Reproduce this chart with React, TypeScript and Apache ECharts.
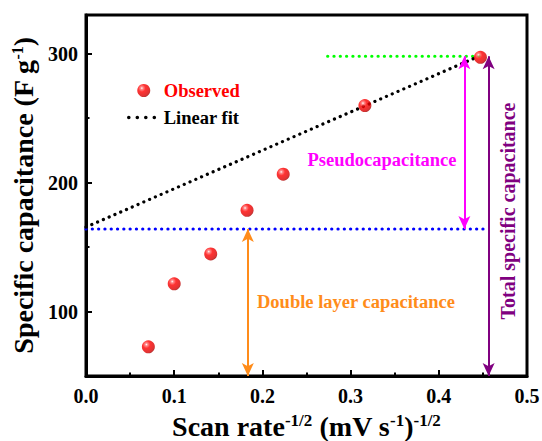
import React, { useEffect, useRef } from 'react';
import * as echarts from 'echarts';

// ---- data ----
const scanRate = [0.0707, 0.1, 0.1414, 0.1826, 0.2236, 0.3162, 0.4472];
const capacitance = [72.6, 121.5, 144.7, 178.5, 206.5, 259.8, 297.2];
const fitX = [0, 0.442];
const fitY = [165.5, 297];
const doubleLayerLevel = 164;
const totalLevel = 298;
const blueLineX = [0, 0.4565];
const greenLineX = [0.274, 0.446];
const arrowDoubleX = 0.1835;
const arrowPseudoX = 0.429;
const arrowTotalX = 0.4565;
const yMin = 50;
const yMax = 330;
const yMajorTicks = [100, 200, 300];
const yMinorTicks = [150, 250];
const xMin = 0;
const xMax = 0.5;
const xInterval = 0.1;

const FONT = '"Liberation Serif", "Times New Roman", serif';
const ORANGE = '#ff8c1a';
const PINK = '#ff00ff';
const PURPLE = '#800080';

export default function App() {
  const ref = useRef<HTMLDivElement>(null);

  useEffect(() => {
    document.body.style.margin = '0';
    const chart = echarts.init(ref.current!, null, { renderer: 'svg' });

    const sphere = {
      type: 'radial',
      x: 0.35,
      y: 0.32,
      r: 0.72,
      colorStops: [
        { offset: 0, color: '#ffffff' },
        { offset: 0.14, color: '#ff7070' },
        { offset: 0.4, color: '#ff0000' },
        { offset: 0.85, color: '#d80000' },
        { offset: 1, color: '#a00000' },
      ],
    };

    const dotted = (color: string) => ({
      color,
      width: 3.2,
      type: [0.1, 6.2],
      cap: 'round',
    });

    const arrowLine = (x: number, y1: number, y2: number, color: string) => [
      { coord: [x, y1], lineStyle: { color, width: 2, type: 'solid' } },
      { coord: [x, y2] },
    ];

    const richName = (main: number, sup: number) => ({
      m: { fontSize: main, fontWeight: 'bold', fontFamily: FONT, color: '#000', lineHeight: main },
      s: { fontSize: sup, fontWeight: 'bold', fontFamily: FONT, color: '#000', lineHeight: 6, verticalAlign: 'top' },
    });

    chart.setOption({
      animation: false,
      backgroundColor: '#ffffff',
      grid: {
        left: 86,
        right: 15,
        top: 15,
        bottom: 65,
        show: true,
        borderColor: '#000',
        borderWidth: 3,
        containLabel: false,
        outerBoundsMode: 'none',
      },
      legend: {
        orient: 'vertical',
        left: 127,
        top: 81,
        padding: 0,
        itemWidth: 30,
        itemHeight: 13,
        itemGap: 8,
        selectedMode: false,
        textStyle: { fontFamily: FONT, fontSize: 18.5, fontWeight: 'bold' },
        data: [
          { name: 'Observed', textStyle: { color: '#ff0000' } },
          {
            name: 'Linear fit',
            textStyle: { color: '#000000' },
            itemStyle: { opacity: 0 },
            lineStyle: { color: '#000', width: 3.5, type: [0.1, 8.4], cap: 'round' },
          },
        ],
      },
      xAxis: {
        type: 'value',
        min: xMin,
        max: xMax,
        interval: xInterval,
        splitLine: { show: false },
        axisLine: { lineStyle: { color: '#000', width: 3 } },
        axisTick: { inside: true, length: 6, lineStyle: { color: '#000', width: 2 } },
        minorTick: { show: true, splitNumber: 2, length: 3.5, lineStyle: { color: '#000', width: 2 } },
        axisLabel: {
          color: '#000',
          fontFamily: FONT,
          fontSize: 20,
          fontWeight: 'bold',
          margin: 10,
          formatter: (v: number) => v.toFixed(1),
        },
        name: '{m|Scan rate}{s|-1/2}{m| (mV s}{s|-1}{m|)}{s|-1/2}',
        nameLocation: 'middle',
        nameGap: 36,
        nameTextStyle: { rich: richName(28, 17) },
      },
      yAxis: [
        {
          type: 'value',
          position: 'left',
          min: yMin,
          max: yMax,
          splitLine: { show: false },
          axisLine: { show: true, lineStyle: { color: '#000', width: 3 } },
          axisTick: { show: true, inside: true, length: 6, customValues: yMajorTicks, lineStyle: { color: '#000', width: 2 } },
          axisLabel: {
            color: '#000',
            fontFamily: FONT,
            fontSize: 20,
            fontWeight: 'bold',
            margin: 8,
            customValues: yMajorTicks,
          },
          name: '{m|Specific capacitance (F g}{s|-1}{m|)}',
          nameLocation: 'middle',
          nameRotate: 90,
          nameGap: 44,
          nameTextStyle: { rich: richName(28, 16) },
        },
        {
          type: 'value',
          position: 'left',
          min: yMin,
          max: yMax,
          splitLine: { show: false },
          axisLine: { show: false },
          axisLabel: { show: false },
          axisTick: { show: true, inside: true, length: 3.5, customValues: yMinorTicks, lineStyle: { color: '#000', width: 2 } },
        },
      ],
      series: [
        {
          name: 'Blue level',
          type: 'line',
          symbol: 'none',
          silent: true,
          data: blueLineX.map((x) => [x, doubleLayerLevel]),
          lineStyle: dotted('#0000ff'),
          z: 2,
          markLine: {
            silent: true,
            symbol: ['arrow', 'arrow'],
            symbolSize: [9, 13],
            label: { show: false },
            emphasis: { disabled: true },
            data: [
              arrowLine(arrowDoubleX, doubleLayerLevel, yMin, ORANGE),
              arrowLine(arrowPseudoX, totalLevel, doubleLayerLevel, PINK),
              arrowLine(arrowTotalX, totalLevel, yMin, PURPLE),
            ],
          },
        },
        {
          name: 'Green level',
          type: 'line',
          symbol: 'none',
          silent: true,
          data: greenLineX.map((x) => [x, totalLevel]),
          lineStyle: dotted('#00ff00'),
          z: 2,
        },
        {
          name: 'Linear fit',
          type: 'line',
          symbol: 'none',
          data: fitX.map((x, i) => [x, fitY[i]]),
          lineStyle: dotted('#000000'),
          itemStyle: { color: '#000' },
          z: 3,
        },
        {
          name: 'Observed',
          type: 'scatter',
          symbol: 'circle',
          symbolSize: 13,
          data: scanRate.map((x, i) => [x, capacitance[i]]),
          itemStyle: { color: sphere },
          z: 5,
        },
      ],
      graphic: [
        {
          type: 'text',
          x: 382,
          y: 160,
          style: {
            text: 'Pseudocapacitance',
            fill: PINK,
            fontFamily: FONT,
            fontSize: 18.5,
            fontWeight: 'bold',
            align: 'center',
            verticalAlign: 'middle',
          },
        },
        {
          type: 'text',
          x: 356,
          y: 302,
          style: {
            text: 'Double layer capacitance',
            fill: ORANGE,
            fontFamily: FONT,
            fontSize: 18.5,
            fontWeight: 'bold',
            align: 'center',
            verticalAlign: 'middle',
          },
        },
        {
          type: 'text',
          x: 508,
          y: 211,
          rotation: Math.PI / 2,
          style: {
            text: 'Total specific capacitance',
            fill: PURPLE,
            fontFamily: FONT,
            fontSize: 20,
            fontWeight: 'bold',
            align: 'center',
            verticalAlign: 'middle',
          },
        },
      ],
    });

    return () => chart.dispose();
  }, []);

  return <div ref={ref} style={{ position: 'absolute', left: 0, top: 0, width: 542, height: 441 }} />;
}
